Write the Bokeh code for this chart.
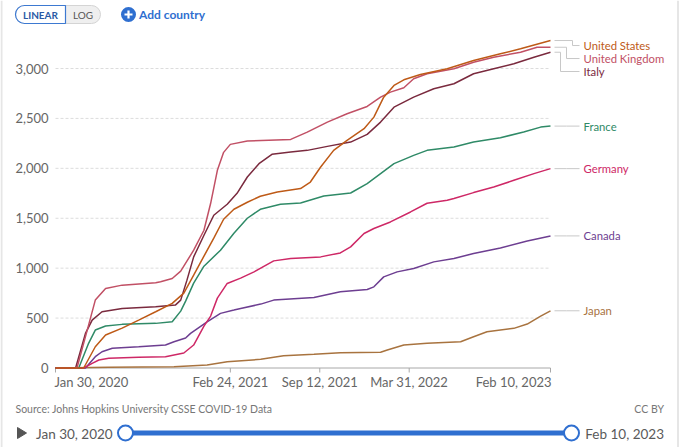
import datetime as dt
from bokeh.plotting import figure
from bokeh.models import Range1d, ColumnDataSource
from bokeh.embed import file_html
from bokeh.resources import INLINE
from bokeh.core.properties import value

FONT = "Lato"

# ---------------- data ----------------
countries = ["United States", "United Kingdom", "Italy", "France", "Germany", "Canada", "Japan"]
colors = ["#BE5A17", "#C15065", "#7A2A3E", "#2F8A67", "#CE2866", "#6D3E91", "#A8733F"]

start_date = "2020-01-30"
end_date = "2023-02-10"

us_dates = ["2020-01-30", "2020-04-02", "2020-04-28", "2020-05-21", "2020-06-27", "2020-08-03",
            "2020-09-10", "2020-10-17", "2020-11-12", "2020-12-04", "2020-12-27", "2021-01-18",
            "2021-02-09", "2021-03-04", "2021-04-03", "2021-05-02", "2021-06-09", "2021-07-31",
            "2021-08-22", "2021-09-14", "2021-10-13", "2021-11-12", "2021-12-20", "2022-01-11",
            "2022-02-02", "2022-02-25", "2022-03-19", "2022-04-25", "2022-06-24", "2022-08-22",
            "2022-10-21", "2022-12-05", "2023-02-10"]
us_values = [0, 0, 213, 330, 400, 480, 563, 647, 750, 930, 1120, 1300, 1490, 1590, 1660, 1720,
             1763, 1797, 1863, 2013, 2180, 2280, 2397, 2513, 2713, 2830, 2887, 2940, 2997, 3080,
             3147, 3197, 3280]

uk_dates = ["2020-01-30", "2020-03-18", "2020-04-13", "2020-04-28", "2020-05-21", "2020-06-27",
            "2020-09-10", "2020-09-21", "2020-10-17", "2020-11-05", "2020-12-04", "2020-12-27",
            "2021-01-11", "2021-01-26", "2021-02-09", "2021-02-24", "2021-04-03", "2021-07-09",
            "2021-08-15", "2021-09-29", "2021-11-12", "2021-12-27", "2022-01-26", "2022-02-17",
            "2022-03-19", "2022-04-10", "2022-05-10", "2022-07-09", "2022-08-22", "2022-10-06",
            "2022-12-05", "2023-01-11", "2023-02-10"]
uk_values = [0, 0, 430, 680, 797, 830, 853, 863, 897, 970, 1180, 1380, 1650, 1980, 2160, 2240,
             2273, 2290, 2363, 2463, 2547, 2620, 2713, 2763, 2807, 2897, 2947, 2997, 3063, 3113,
             3163, 3213, 3213]

italy_dates = ["2020-01-30", "2020-03-15", "2020-04-06", "2020-04-21", "2020-05-13", "2020-06-27",
               "2020-09-10", "2020-10-24", "2020-11-05", "2020-11-19", "2020-12-04", "2020-12-27",
               "2021-01-18", "2021-02-17", "2021-03-11", "2021-04-03", "2021-04-29", "2021-05-28",
               "2021-07-09", "2021-08-15", "2021-09-29", "2021-11-20", "2021-12-27", "2022-01-26",
               "2022-02-25", "2022-04-10", "2022-05-25", "2022-07-09", "2022-08-22", "2022-10-06",
               "2022-11-20", "2023-01-04", "2023-02-10"]
italy_values = [0, 0, 347, 480, 563, 597, 613, 630, 680, 880, 1113, 1330, 1530, 1640, 1750, 1913,
                2047, 2140, 2163, 2180, 2220, 2263, 2340, 2463, 2613, 2713, 2797, 2847, 2947, 2997,
                3047, 3113, 3163]

france_dates = ["2020-01-30", "2020-03-22", "2020-04-13", "2020-04-28", "2020-05-21", "2020-06-27",
                "2020-09-10", "2020-10-17", "2020-11-05", "2020-11-16", "2020-12-04", "2020-12-27",
                "2021-02-02", "2021-03-04", "2021-04-03", "2021-05-02", "2021-06-16", "2021-07-31",
                "2021-09-21", "2021-11-20", "2021-12-27", "2022-01-26", "2022-02-25", "2022-04-10",
                "2022-05-10", "2022-07-09", "2022-08-22", "2022-10-21", "2022-12-12", "2023-01-19",
                "2023-02-10"]
france_values = [0, 0, 247, 380, 420, 437, 447, 463, 570, 670, 850, 1020, 1180, 1350, 1500, 1590,
                 1640, 1653, 1723, 1753, 1847, 1947, 2047, 2130, 2180, 2213, 2263, 2307, 2363, 2413,
                 2423]

germany_dates = ["2020-01-30", "2020-04-02", "2020-04-21", "2020-05-06", "2020-05-28", "2020-08-03",
                 "2020-10-02", "2020-11-12", "2020-12-04", "2020-12-27", "2021-01-11", "2021-01-26",
                 "2021-02-17", "2021-03-19", "2021-04-18", "2021-06-01", "2021-07-09", "2021-09-14",
                 "2021-10-28", "2021-11-20", "2021-12-20", "2022-01-11", "2022-02-17", "2022-04-03",
                 "2022-05-10", "2022-06-24", "2022-07-09", "2022-08-22", "2022-10-06", "2022-11-20",
                 "2023-01-04", "2023-02-10"]
germany_values = [0, 0, 47, 80, 97, 107, 113, 150, 230, 420, 520, 700, 847, 900, 963, 1073, 1097,
                  1113, 1153, 1213, 1347, 1397, 1463, 1563, 1650, 1680, 1697, 1757, 1813, 1880,
                  1947, 1997]

canada_dates = ["2020-01-30", "2020-04-06", "2020-04-28", "2020-05-13", "2020-06-05", "2020-08-03",
                "2020-10-02", "2020-10-21", "2020-11-16", "2020-11-27", "2021-01-03", "2021-02-02",
                "2021-03-04", "2021-03-19", "2021-05-03", "2021-06-01", "2021-08-30", "2021-10-28",
                "2021-12-27", "2022-01-11", "2022-02-02", "2022-03-04", "2022-04-10", "2022-05-25",
                "2022-07-09", "2022-08-22", "2022-10-21", "2022-12-20", "2023-02-10"]
canada_values = [0, 0, 113, 163, 197, 213, 230, 263, 300, 347, 463, 547, 580, 597, 640, 680, 707,
                 763, 787, 813, 913, 963, 997, 1063, 1097, 1147, 1203, 1273, 1323]

japan_dates = ["2020-01-30", "2020-05-29", "2020-10-21", "2021-01-03", "2021-02-17", "2021-05-03",
               "2021-06-23", "2021-08-30", "2021-10-28", "2022-01-26", "2022-02-10", "2022-03-19",
               "2022-05-10", "2022-07-24", "2022-08-22", "2022-09-21", "2022-11-20", "2022-12-20",
               "2023-01-19", "2023-02-10"]
japan_values = [0, 7, 13, 30, 63, 87, 123, 137, 153, 157, 180, 230, 247, 263, 313, 363, 397, 440,
                520, 573]

y_ticks = [0, 500, 1000, 1500, 2000, 2500, 3000]
x_tick_dates = ["2020-01-30", "2021-02-24", "2021-09-12", "2022-03-31", "2023-02-10"]
x_tick_labels = ["Jan 30, 2020", "Feb 24, 2021", "Sep 12, 2021", "Mar 31, 2022", "Feb 10, 2023"]

source_text = "Source: Johns Hopkins University CSSE COVID-19 Data"
license_text = "CC BY"

series = [
    (us_dates, us_values), (uk_dates, uk_values), (italy_dates, italy_values),
    (france_dates, france_values), (germany_dates, germany_values),
    (canada_dates, canada_values), (japan_dates, japan_values),
]

# ---------------- helpers / layout constants ----------------
def to_dt(s):
    return dt.datetime.strptime(s, "%Y-%m-%d")

def to_ms(s):
    return (to_dt(s) - dt.datetime(1970, 1, 1)).total_seconds() * 1000.0

W, H = 680, 447
X_DATA_L, X_DATA_R = 55, 550        # pixel span of the date axis
Y_ZERO_PX, Y_TOP_TICK_PX = 367.5, 68  # pixel rows of 0 and of the top tick
SLIDER_Y = 432.5
BLUE = "#2f6fd0"
GREY_TXT = "#666666"
AXIS_GREY = "#a8a8a8"

t0 = to_ms(start_date)
t1 = to_ms(end_date)
px_ms = (t1 - t0) / (X_DATA_R - X_DATA_L)
upp = y_ticks[-1] / (Y_ZERO_PX - Y_TOP_TICK_PX)   # data units per pixel

p = figure(width=W, height=H,
           x_range=Range1d(t0 - X_DATA_L * px_ms, t0 + (W - X_DATA_L) * px_ms),
           y_range=Range1d(-(H - Y_ZERO_PX) * upp, Y_ZERO_PX * upp),
           min_border=0, x_axis_location=None, y_axis_location=None,
           toolbar_location=None, output_backend="svg")
p.grid.visible = False
p.outline_line_color = None
p.background_fill_color = "white"
p.border_fill_color = "white"
# pixel coordinate system for the page controls (y = -pixel row)
p.extra_x_ranges = {"px": Range1d(0, W)}
p.extra_y_ranges = {"py": Range1d(-H, 0)}
PX = dict(x_range_name="px", y_range_name="py")

# frame borders of the embed
p.segment(x0=[1, 677.5], x1=[1, 677.5], y0=[0, 0], y1=[-H, -H], line_color="#e6e6e6",
          line_width=2, **PX)

# ---------------- y axis: labels + dotted grid ----------------
p.text(x=[t0] * len(y_ticks), y=y_ticks, text=[f"{v:,}" for v in y_ticks], x_offset=-7,
       text_align="right", text_baseline="middle", text_font=value(FONT),
       text_font_size=value("13px"), text_color=GREY_TXT)
grid_vals = [t for t in y_ticks if t > 0]
p.segment(x0=[t0] * len(grid_vals), x1=[t1] * len(grid_vals), y0=grid_vals, y1=grid_vals,
          line_color="#dcdcdc", line_dash="3 2", line_width=1)

# ---------------- x axis: line, ticks, labels ----------------
p.segment(x0=[t0], x1=[t1], y0=[0], y1=[0], line_color=AXIS_GREY, line_width=1)
tick_ms = [to_ms(d) for d in x_tick_dates]
p.segment(x0=tick_ms, x1=tick_ms, y0=[0] * len(tick_ms), y1=[-4.5 * upp] * len(tick_ms),
          line_color=AXIS_GREY, line_width=1)
aligns = ["left"] + ["center"] * (len(tick_ms) - 2) + ["right"]
xoffs = [-1] + [0] * (len(tick_ms) - 2) + [1]
xsrc = ColumnDataSource(dict(x=tick_ms, y=[0] * len(tick_ms), text=x_tick_labels,
                             align=aligns, xoff=xoffs))
p.text(x="x", y="y", text="text", text_align="align", x_offset="xoff", y_offset=13.5,
       text_baseline="middle", text_font=value(FONT), text_font_size=value("13px"),
       text_color=GREY_TXT, source=xsrc)

# ---------------- data lines ----------------
for (ds, vs), col in zip(reversed(series), reversed(colors)):
    p.line(x=[to_dt(d) for d in ds], y=vs, line_color=col, line_width=1.5)

# ---------------- end labels with de-overlap ----------------
last_vals = [vs[-1] for _, vs in series]
order = sorted(range(len(series)), key=lambda i: -last_vals[i])
gap = 130
label_cap = 3230
label_y = {}
prev = None
for i in order:
    y = min(last_vals[i], label_cap if prev is None else prev - gap)
    label_y[i] = y
    prev = y
moved = [i for i in order if abs(label_y[i] - last_vals[i]) > 1]
for i in order:
    k = 22 - 6 * moved.index(i) if i in moved else 16
    xs = [t1 + 4 * px_ms, t1 + k * px_ms, t1 + k * px_ms, t1 + 29 * px_ms]
    ys = [last_vals[i], last_vals[i], label_y[i], label_y[i]]
    p.line(x=xs, y=ys, line_color="#c8c8c8", line_width=1)
p.text(x=[t1] * len(order), y=[label_y[i] for i in order], text=[countries[i] for i in order],
       x_offset=33, text_align="left", text_baseline="middle", text_font=value(FONT),
       text_font_size=value("11.3px"), text_color=[colors[i] for i in order])

# ---------------- top controls ----------------
p.quad(left=[15], right=[100], top=[-5], bottom=[-23], border_radius=9,
       fill_color="#efefef", line_color="#d4d4d4", line_width=1, **PX)
p.quad(left=[15], right=[65], top=[-5], bottom=[-23], border_radius=(9, 0, 0, 9),
       fill_color="white", line_color="#3d79d1", line_width=1.2, **PX)
p.text(x=[40], y=[-14.3], text=["LINEAR"], text_font=value(FONT), text_font_size=value("10px"),
       text_font_style="bold", text_align="center", text_baseline="middle",
       text_color="#2a5aa5", **PX)
p.text(x=[82.5], y=[-14.3], text=["LOG"], text_font=value(FONT), text_font_size=value("10px"),
       text_align="center", text_baseline="middle", text_color="#555555", **PX)
p.scatter(x=[128], y=[-14], size=15, marker="circle", fill_color=BLUE, line_color=None, **PX)
p.scatter(x=[128], y=[-14], size=8, marker="cross", line_color="white", line_width=2.2, **PX)
p.text(x=[138.5], y=[-14], text=["Add country"], text_font=value(FONT),
       text_font_size=value("12px"), text_font_style="bold", text_align="left",
       text_baseline="middle", text_color=BLUE, **PX)

# ---------------- bottom: source + time slider ----------------
p.text(x=[15], y=[-408.3], text=[source_text], text_font=value(FONT),
       text_font_size=value("10.5px"), text_align="left", text_baseline="middle",
       text_color="#777777", **PX)
p.text(x=[663.5], y=[-408.3], text=[license_text], text_font=value(FONT),
       text_font_size=value("10.5px"), text_align="right", text_baseline="middle",
       text_color="#777777", **PX)
p.patch(x=[17, 17, 26], y=[-(SLIDER_Y - 5.5), -(SLIDER_Y + 5.5), -SLIDER_Y],
        fill_color="#555555", line_color="#555555", **PX)
p.text(x=[35.5], y=[-SLIDER_Y - 0.5], text=[x_tick_labels[0]], text_font=value(FONT),
       text_font_size=value("13.5px"), text_align="left", text_baseline="middle",
       text_color="#5a5a5a", **PX)
p.text(x=[663.5], y=[-SLIDER_Y - 0.5], text=[x_tick_labels[-1]], text_font=value(FONT),
       text_font_size=value("13.5px"), text_align="right", text_baseline="middle",
       text_color="#5a5a5a", **PX)
p.segment(x0=[125], x1=[571], y0=[-SLIDER_Y], y1=[-SLIDER_Y], line_color=BLUE, line_width=5,
          line_cap="round", **PX)
p.scatter(x=[125, 571], y=[-SLIDER_Y, -SLIDER_Y], size=15, marker="circle", fill_color="white",
          line_color=BLUE, line_width=2, **PX)

open("out.html", "w").write(file_html(p, INLINE))
